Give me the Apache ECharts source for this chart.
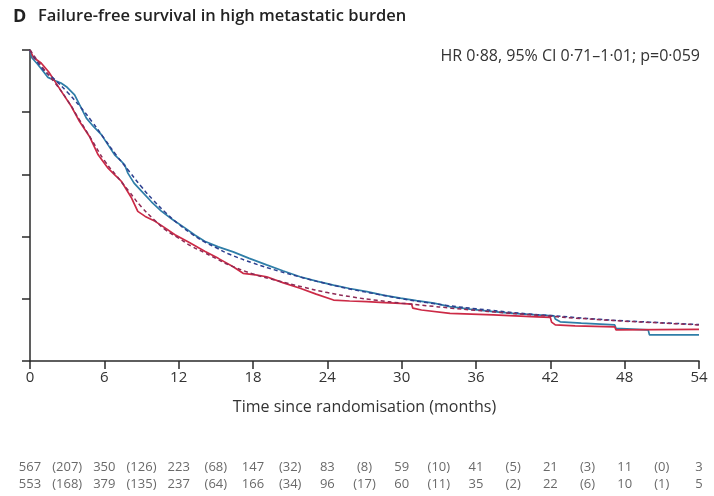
<!DOCTYPE html>
<html><head><meta charset="utf-8">
<script src="https://cdn.jsdelivr.net/npm/echarts@6/dist/echarts.min.js"></script>
<style>html,body{margin:0;padding:0;background:#fff}#c{width:714px;height:496px}</style>
</head><body><div id="c"></div>
<script>
// ---- data ----
const xTicks = [0, 6, 12, 18, 24, 30, 36, 42, 48, 54];
const blueTime = [0,0.15,0.6,1.0,1.45,2.0,2.5,3.0,3.6,4.0,4.55,5.1,5.76,6.3,6.83,7.3,7.64,7.9,8.4,9.0,9.8,10.6,11.5,12.5,13.3,14.1,15.2,16.4,17.7,19.1,20.4,21.8,23.2,24.5,25.8,27.2,28.5,29.9,31.2,32.6,33.9,35.5,37.4,39.0,40.9,42.3,42.4,42.8,44.5,47.2,47.3,49.9,50.0,54];
const blueSurv = [1.0,0.975,0.955,0.935,0.912,0.902,0.894,0.88,0.856,0.824,0.781,0.755,0.728,0.695,0.663,0.645,0.631,0.604,0.572,0.546,0.512,0.482,0.455,0.428,0.405,0.385,0.367,0.351,0.33,0.309,0.29,0.271,0.256,0.244,0.233,0.223,0.212,0.202,0.194,0.186,0.175,0.167,0.159,0.153,0.148,0.145,0.135,0.126,0.122,0.116,0.105,0.1,0.084,0.084];
const redTime = [0,0.3,0.9,1.5,2.0,2.53,3.33,4.0,4.8,5.5,6.3,6.8,7.37,8.2,8.7,9.3,10.1,10.9,11.7,12.9,14.1,15.2,16.4,17.2,18.2,19.1,20.4,21.8,23.1,24.5,25.8,27.2,28.6,29.9,30.8,30.9,31.6,33.9,37.4,40.9,42.0,42.1,42.4,44.0,47.2,47.3,54];
const redSurv = [1.0,0.975,0.958,0.93,0.9,0.867,0.819,0.77,0.722,0.663,0.62,0.6,0.578,0.524,0.481,0.465,0.449,0.428,0.406,0.38,0.353,0.33,0.303,0.282,0.277,0.271,0.252,0.234,0.215,0.196,0.193,0.191,0.188,0.185,0.183,0.17,0.164,0.153,0.148,0.142,0.14,0.125,0.116,0.113,0.11,0.1,0.102];
const fitTime = [0,1,2,3,4,5,6,7,8,9,10,11,12,13,14,15,16,18,20,22,24,26,28,30,32,34,36,38,40,42,44,46,48,50,52,54];
const blueFit = [1.0,0.94,0.905,0.865,0.82,0.77,0.715,0.66,0.61,0.56,0.515,0.475,0.44,0.41,0.385,0.365,0.345,0.315,0.29,0.268,0.248,0.23,0.215,0.2,0.188,0.177,0.168,0.16,0.152,0.146,0.14,0.134,0.129,0.125,0.121,0.117];
const redFit = [1.0,0.945,0.895,0.84,0.775,0.71,0.645,0.595,0.545,0.495,0.455,0.42,0.395,0.37,0.35,0.33,0.31,0.28,0.258,0.238,0.22,0.206,0.195,0.186,0.178,0.17,0.163,0.156,0.15,0.144,0.138,0.133,0.128,0.124,0.12,0.116];
const riskRow1 = [567, 350, 223, 147, 83, 59, 41, 21, 11, 3];
const censRow1 = [207, 126, 68, 32, 8, 10, 5, 3, 0];
const riskRow2 = [553, 379, 237, 166, 96, 60, 35, 22, 10, 5];
const censRow2 = [168, 135, 64, 34, 17, 11, 2, 6, 1];
const titleLetter = 'D';
const titleText = 'Failure-free survival in high metastatic burden';
const hrText = 'HR 0·88, 95% CI 0·71–1·01; p=0·059';
const xName = 'Time since randomisation (months)';

// ---- build ----
const FONT = '"Open Sans", "Liberation Sans", sans-serif';
const zip = (t, s) => t.map((v, i) => [v, s[i]]);
function riskPoints(risk, cens, row) {
  const out = [];
  risk.forEach((v, i) => out.push([xTicks[i], row, String(v)]));
  cens.forEach((v, i) => out.push([(xTicks[i] + xTicks[i + 1]) / 2, row, '(' + v + ')']));
  return out;
}
const chart = echarts.init(document.getElementById('c'), null, {renderer: 'canvas'});
const axisCol = '#2a2a2a';
chart.setOption({
  animation: false,
  grid: [
    {left: 30, right: 15, top: 50, bottom: 135},
    {left: 30, right: 15, top: 459, height: 34}
  ],
  xAxis: [
    {type: 'value', min: 0, max: 54, interval: 6,
     axisLine: {lineStyle: {color: axisCol, width: 1.5}},
     axisTick: {length: 8, lineStyle: {color: axisCol, width: 1.5}},
     axisLabel: {fontSize: 15, color: '#333', margin: 9, fontFamily: FONT},
     splitLine: {show: false},
     name: xName, nameLocation: 'middle', nameGap: 38,
     nameTextStyle: {fontSize: 16, color: '#333', fontFamily: FONT}},
    {gridIndex: 1, type: 'value', min: 0, max: 54, show: false}
  ],
  yAxis: [
    {type: 'value', min: 0, max: 1, interval: 0.2,
     axisLine: {show: true, lineStyle: {color: axisCol, width: 1.5}},
     axisTick: {show: true, length: 8, lineStyle: {color: axisCol, width: 1.5}},
     axisLabel: {show: false}, splitLine: {show: false}},
    {gridIndex: 1, type: 'category', data: ['r1', 'r2'], inverse: true, show: false}
  ],
  series: [
    {type: 'line', data: zip(fitTime, blueFit), smooth: true, showSymbol: false,
     lineStyle: {color: '#2c3f8f', width: 1.5, type: [4, 3]}, z: 3},
    {type: 'line', data: zip(fitTime, redFit), smooth: true, showSymbol: false,
     lineStyle: {color: '#8e2a55', width: 1.5, type: [4, 3]}, z: 3},
    {type: 'line', data: zip(blueTime, blueSurv), showSymbol: false,
     lineStyle: {color: '#2f7ea8', width: 1.7}, z: 2},
    {type: 'line', data: zip(redTime, redSurv), showSymbol: false,
     lineStyle: {color: '#cc2a46', width: 1.7}, z: 2},
    {type: 'scatter', xAxisIndex: 1, yAxisIndex: 1,
     data: riskPoints(riskRow1, censRow1, 0).concat(riskPoints(riskRow2, censRow2, 1)),
     symbolSize: 1, itemStyle: {color: 'rgba(0,0,0,0)'},
     label: {show: true, position: 'inside', formatter: p => p.value[2],
             fontSize: 13, color: '#444', fontFamily: FONT}}
  ],
  graphic: [
    {type: 'text', left: 13, top: 8, style: {text: titleLetter, font: 'bold 18px ' + FONT, fill: '#222'}},
    {type: 'text', left: 38, top: 8, style: {text: titleText, font: '600 16.5px ' + FONT, fill: '#222'}},
    {type: 'text', right: 14, top: 48, style: {text: hrText, font: '16px ' + FONT, fill: '#333'}}
  ]
});
</script></body></html>
